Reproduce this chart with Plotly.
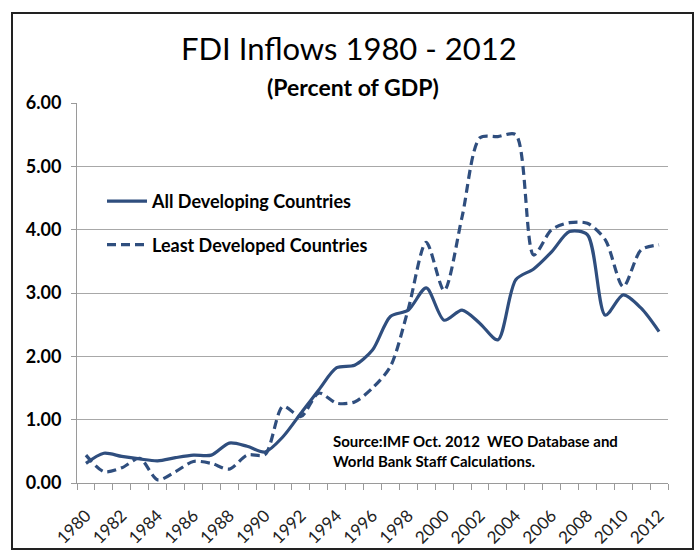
import plotly.graph_objects as go

years = list(range(1980, 2013))
all_developing = [0.31, 0.47, 0.42, 0.38, 0.35, 0.40, 0.44, 0.44, 0.63, 0.58,
                  0.49, 0.73, 1.10, 1.47, 1.82, 1.86, 2.10, 2.63, 2.73, 3.08,
                  2.57, 2.73, 2.52, 2.26, 3.21, 3.38, 3.65, 3.97, 3.92, 2.65,
                  2.97, 2.76, 2.39]
least_developed = [0.44, 0.18, 0.24, 0.39, 0.05, 0.18, 0.34, 0.31, 0.22, 0.44,
                   0.45, 1.21, 1.05, 1.42, 1.26, 1.28, 1.50, 1.84, 2.75, 3.80,
                   3.04, 4.20, 5.45, 5.47, 5.50, 3.60, 4.00, 4.11, 4.10, 3.84,
                   3.10, 3.68, 3.76]
x_tick_labels = [str(y) for y in range(1980, 2013, 2)]
y_tick_values = [0, 1, 2, 3, 4, 5, 6]

W, H = 696, 550
L, R, T, B = 77, 668, 103, 483
def px(x):
    return (x - L) / (R - L)
def py(y):
    return (B - y) / (B - T)

color = "#2F4E7E"
font = "Lato, 'Open Sans', sans-serif"

fig = go.Figure()
fig.add_trace(go.Scatter(
    x=years, y=all_developing, mode="lines", name="All Developing Countries",
    legendgroup="a",
    line=dict(color=color, width=3.2, shape="spline", smoothing=0.8)))
fig.add_trace(go.Scatter(
    x=years, y=least_developed, mode="lines", name="Least Developed Countries",
    legendgroup="b",
    line=dict(color=color, width=3.2, dash="9px,5px", shape="spline", smoothing=0.8)))

fig.update_layout(
    width=W, height=H,
    margin=dict(l=L, r=W - R, t=T, b=H - B, autoexpand=False),
    paper_bgcolor="white", plot_bgcolor="white",
    font=dict(family=font, color="black"),
    showlegend=True,
    legend=dict(x=px(102), y=py(183), xanchor="left", yanchor="top",
                bgcolor="rgba(0,0,0,0)", traceorder="grouped", tracegroupgap=17,
                font=dict(size=18, family=font, weight="bold"),
                itemwidth=40),
    xaxis=dict(range=[1979.5, 2012.5], tickmode="array", automargin=False,
               tickvals=list(range(1980, 2013, 2)), ticktext=x_tick_labels,
               tickangle=-45, ticks="", showgrid=False, zeroline=False,
               showline=True, linecolor="#9A9A9A", linewidth=1,
               ticklabelstandoff=15,
               tickfont=dict(size=17, family=font, color="#222"),
               minor=dict(tickmode="linear", tick0=1979.5, dtick=1, ticks="outside",
                          ticklen=6, tickcolor="#9A9A9A", showgrid=False)),
    yaxis=dict(range=[0, 6], tickmode="array", tickvals=y_tick_values, automargin=False,
               tickformat=".2f", showgrid=True, gridcolor="#A8A8A8", gridwidth=1,
               zeroline=False, showline=True, linecolor="#9A9A9A", linewidth=1,
               ticks="outside", ticklen=5, tickcolor="#9A9A9A",
               ticklabelstandoff=6,
               tickfont=dict(size=18, family=font, weight="bold"))
)

fig.add_annotation(text="FDI Inflows 1980 - 2012", xref="paper", yref="paper",
                   x=px(349), y=py(48), xanchor="center", yanchor="middle",
                   showarrow=False, font=dict(size=31, family=font, color="black"))
fig.add_annotation(text="(Percent of GDP)", xref="paper", yref="paper",
                   x=px(353), y=py(87), xanchor="center", yanchor="middle",
                   showarrow=False, font=dict(size=23, family=font, color="black", weight="bold"))
fig.add_annotation(text="Source:IMF Oct. 2012  WEO Database and<br>World Bank Staff Calculations.",
                   xref="paper", yref="paper", x=px(331), y=py(451),
                   xanchor="left", yanchor="middle", align="left", showarrow=False,
                   font=dict(size=15, family=font, color="black", weight="bold"))

fig.add_shape(type="rect", xref="paper", yref="paper",
              x0=px(12), x1=px(693), y0=py(13), y1=py(549),
              line=dict(color="#222", width=2), fillcolor="rgba(0,0,0,0)", layer="below")

fig.write_html("out.html")
